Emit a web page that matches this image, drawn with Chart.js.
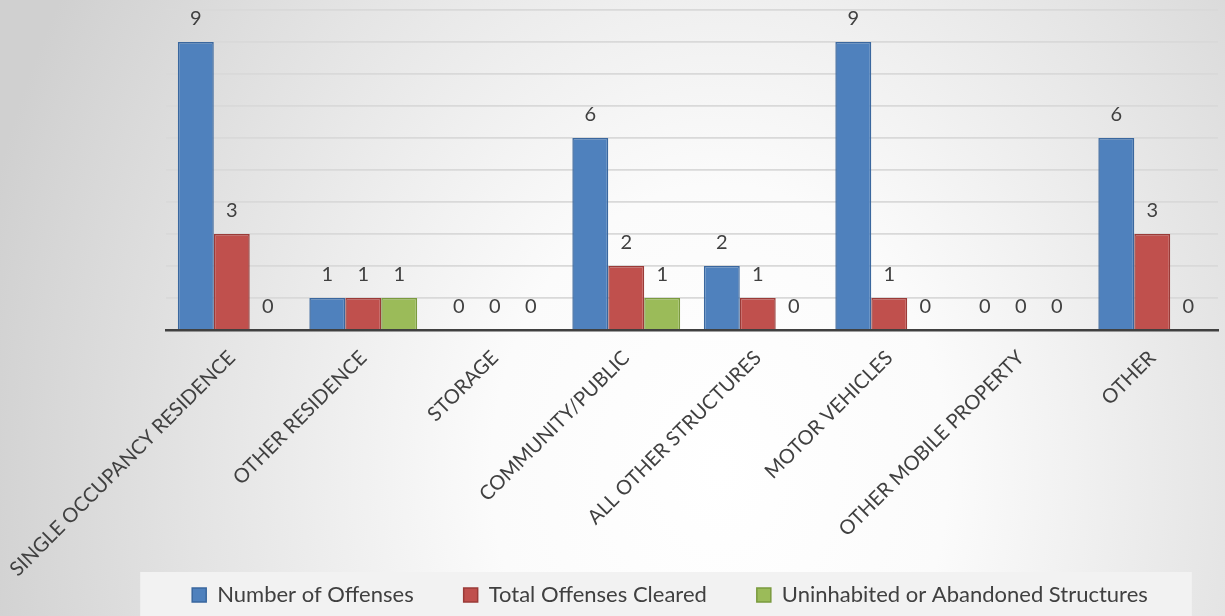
<!DOCTYPE html>
<html>
<head>
<meta charset="utf-8">
<script src="https://cdn.jsdelivr.net/npm/chart.js@4.4.1/dist/chart.umd.min.js"></script>
<style>
  html, body { margin: 0; padding: 0; }
  body {
    width: 1225px; height: 616px; overflow: hidden;
    background: radial-gradient(ellipse 760px 950px at 720px 470px, #ffffff 0%, #fbfbfb 30%, #e3e3e3 70%, #d0d0d0 100%);
  }
  #wrap { position: relative; width: 1225px; height: 616px; }
</style>
</head>
<body>
<div id="wrap"><canvas id="chart"></canvas></div>
<script>
// ── Data ──────────────────────────────────────────────────────────────────────
const categories = [
  'SINGLE OCCUPANCY RESIDENCE', 'OTHER RESIDENCE', 'STORAGE', 'COMMUNITY/PUBLIC',
  'ALL OTHER STRUCTURES', 'MOTOR VEHICLES', 'OTHER MOBILE PROPERTY', 'OTHER'
];
const offenses    = [9, 1, 0, 6, 2, 9, 0, 6];
const cleared     = [3, 1, 0, 2, 1, 1, 0, 3];
const uninhabited = [0, 1, 0, 1, 0, 0, 0, 0];
const seriesNames = ['Number of Offenses', 'Total Offenses Cleared', 'Uninhabited or Abandoned Structures'];

const TEXT = '#404040';
const FONT = 'Lato, "Open Sans", sans-serif';
const PLOT_BOTTOM = 330;   // px, where the x axis sits

// ── Plugins ───────────────────────────────────────────────────────────────────
// value labels above every bar, zeros included
const valueLabels = {
  id: 'valueLabels',
  afterDatasetsDraw(chart) {
    const ctx = chart.ctx;
    ctx.save();
    ctx.fillStyle = TEXT;
    ctx.font = '20px ' + FONT;
    ctx.textAlign = 'center';
    ctx.textBaseline = 'alphabetic';
    chart.data.datasets.forEach((ds, i) => {
      chart.getDatasetMeta(i).data.forEach((bar, j) => {
        ctx.fillText(String(ds.data[j]), bar.x, bar.y - 17);
      });
    });
    ctx.restore();
  }
};

// light panel behind the legend; also let the long x labels run past the legend top
const legendPanel = {
  id: 'legendPanel',
  afterLayout(chart) {
    chart.scales.x.bottom = chart.height;   // only widens the label clip area
  },
  beforeDraw(chart) {
    const lg = chart.legend;
    if (!lg || !lg.legendHitBoxes.length) return;
    const boxes = lg.legendHitBoxes;
    const left  = Math.min(...boxes.map(b => b.left)) - 52;
    const right = Math.max(...boxes.map(b => b.left + b.width)) + 44;
    const ctx = chart.ctx;
    ctx.save();
    ctx.fillStyle = '#f2f2f2';
    ctx.fillRect(left, 572, right - left, 616 - 572);
    ctx.restore();
  }
};

// ── Chart ─────────────────────────────────────────────────────────────────────
new Chart(document.getElementById('chart'), {
  type: 'bar',
  data: {
    labels: categories,
    datasets: [
      { label: seriesNames[0], data: offenses,    backgroundColor: '#4f81bd', borderColor: '#3a679e', borderWidth: 1.5 },
      { label: seriesNames[1], data: cleared,     backgroundColor: '#c0504d', borderColor: '#9a3b38', borderWidth: 1.5 },
      { label: seriesNames[2], data: uninhabited, backgroundColor: '#9bbb59', borderColor: '#7a9a3e', borderWidth: 1.5 },
    ],
  },
  options: {
    responsive: true,
    maintainAspectRatio: false,
    animation: false,
    datasets: { bar: { categoryPercentage: 0.82, barPercentage: 1.0 } },
    layout: { padding: { top: 10, left: 122, right: 7, bottom: 0 } },
    plugins: {
      tooltip: { enabled: false },
      legend: {
        position: 'bottom',
        labels: {
          color: TEXT,
          font: { family: FONT, size: 22 },
          boxWidth: 14,
          boxHeight: 14,
          padding: 50,
        },
      },
    },
    scales: {
      x: {
        grid: { display: false },
        border: { color: '#404040', width: 2.5 },
        ticks: {
          color: TEXT,
          font: { family: FONT, size: 20 },
          minRotation: 45,
          maxRotation: 45,
          autoSkip: false,
          padding: 8,
        },
        afterFit(s) {
          const lg = s.chart.legend;
          const lgH = lg && lg.height ? lg.height : 82;
          s.height = s.chart.height - PLOT_BOTTOM - lgH;
          s.paddingLeft = 0;
          s.paddingRight = 0;
        },
      },
      y: {
        min: 0,
        max: 10,
        ticks: { display: false, stepSize: 1 },
        grid: { color: '#d9d9d9', lineWidth: 1.8, drawTicks: false },
        border: { display: false },
        afterFit(s) { s.width = 44; },
      },
    },
  },
  plugins: [valueLabels, legendPanel],
});
</script>
</body>
</html>
